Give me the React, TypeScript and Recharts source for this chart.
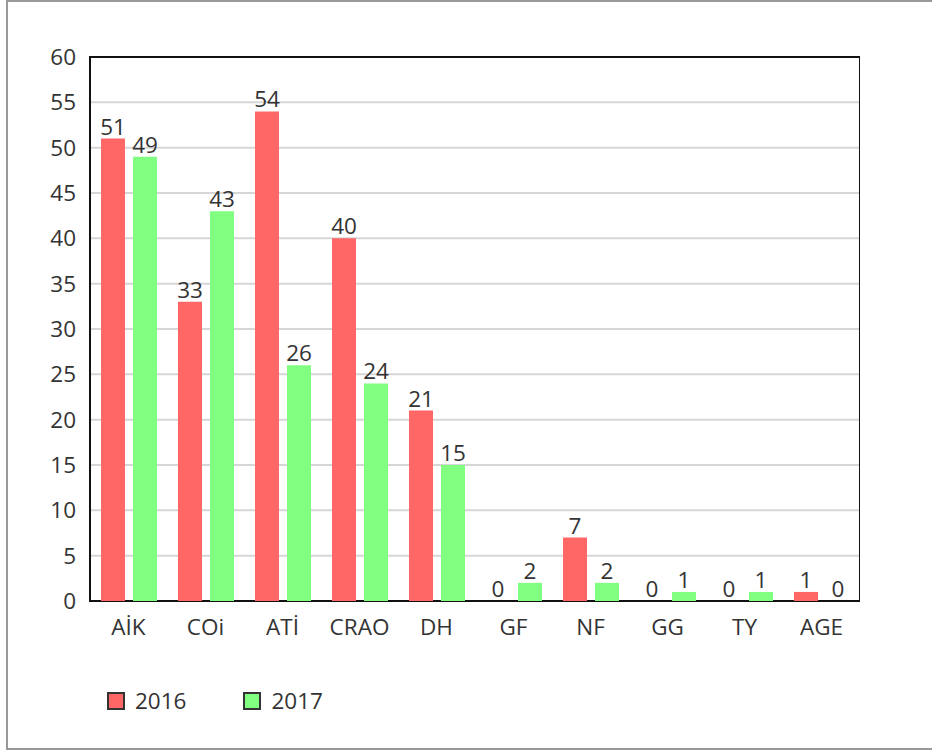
import {
  BarChart,
  Bar,
  XAxis,
  YAxis,
  CartesianGrid,
  LabelList,
  Legend,
  ReferenceArea,
} from "recharts";

const categories = ["AİK", "COi", "ATİ", "CRAO", "DH", "GF", "NF", "GG", "TY", "AGE"];
const values2016 = [51, 33, 54, 40, 21, 0, 7, 0, 0, 1];
const values2017 = [49, 43, 26, 24, 15, 2, 2, 1, 1, 0];
const yTicks = [0, 5, 10, 15, 20, 25, 30, 35, 40, 45, 50, 55, 60];

const series = [
  { key: "y2016", name: "2016", color: "#FF6666" },
  { key: "y2017", name: "2017", color: "#80FF80" },
];

const data = categories.map((c, i) => ({
  name: c,
  y2016: values2016[i],
  y2017: values2017[i],
}));

const font = "'Open Sans', sans-serif";
const textStyle = { fontSize: 22.5, fill: "#333", fontFamily: font };

function LegendBox() {
  return (
    <div
      style={{
        display: "flex",
        height: 30,
        lineHeight: "30px",
        fontFamily: font,
        fontSize: 22.5,
        color: "#333",
      }}
    >
      {series.map((s, i) => (
        <div
          key={s.key}
          style={{ display: "flex", alignItems: "center", marginRight: i === 0 ? 57 : 0 }}
        >
          <span
            style={{
              width: 14,
              height: 14,
              background: s.color,
              border: "2px solid #333",
              marginRight: 10,
              display: "inline-block",
            }}
          />
          {s.name}
        </div>
      ))}
    </div>
  );
}

export default function App() {
  return (
    <div style={{ position: "absolute", left: 0, top: 0, width: 932, height: 751, background: "#fff" }}>
      <div
        style={{
          position: "absolute",
          left: 6,
          top: 0,
          width: 940,
          height: 746,
          border: "2px solid #999",
        }}
      />
      <div style={{ position: "absolute", left: 0, top: 0 }}>
        <BarChart
          width={860}
          height={751}
          data={data}
          margin={{ top: 57, right: 0, left: 0, bottom: 0 }}
          barSize={24}
          barGap={8}
        >
          <CartesianGrid vertical={false} stroke="#d6d6d6" strokeWidth={2} />
          <XAxis
            dataKey="name"
            tickLine={false}
            axisLine={false}
            tickMargin={12}
            height={120}
            interval={0}
            tick={textStyle}
          />
          <YAxis
            domain={[0, 60]}
            ticks={yTicks}
            width={90}
            tickLine={false}
            axisLine={false}
            tickMargin={8}
            interval={0}
            tick={textStyle}
          />
          {series.map((s) => (
            <Bar
              key={s.key}
              dataKey={s.key}
              name={s.name}
              fill={s.color}
              minPointSize={0.01}
              isAnimationActive={false}
            >
              <LabelList dataKey={s.key} position="top" offset={4} style={textStyle} />
            </Bar>
          ))}
          <ReferenceArea y1={0} y2={60} fill="none" stroke="#111" strokeWidth={2} ifOverflow="visible" />
          <Legend
            verticalAlign="bottom"
            align="left"
            content={() => <LegendBox />}
            wrapperStyle={{ left: 107, bottom: 35, width: 300, height: 30 }}
          />
        </BarChart>
      </div>
    </div>
  );
}
